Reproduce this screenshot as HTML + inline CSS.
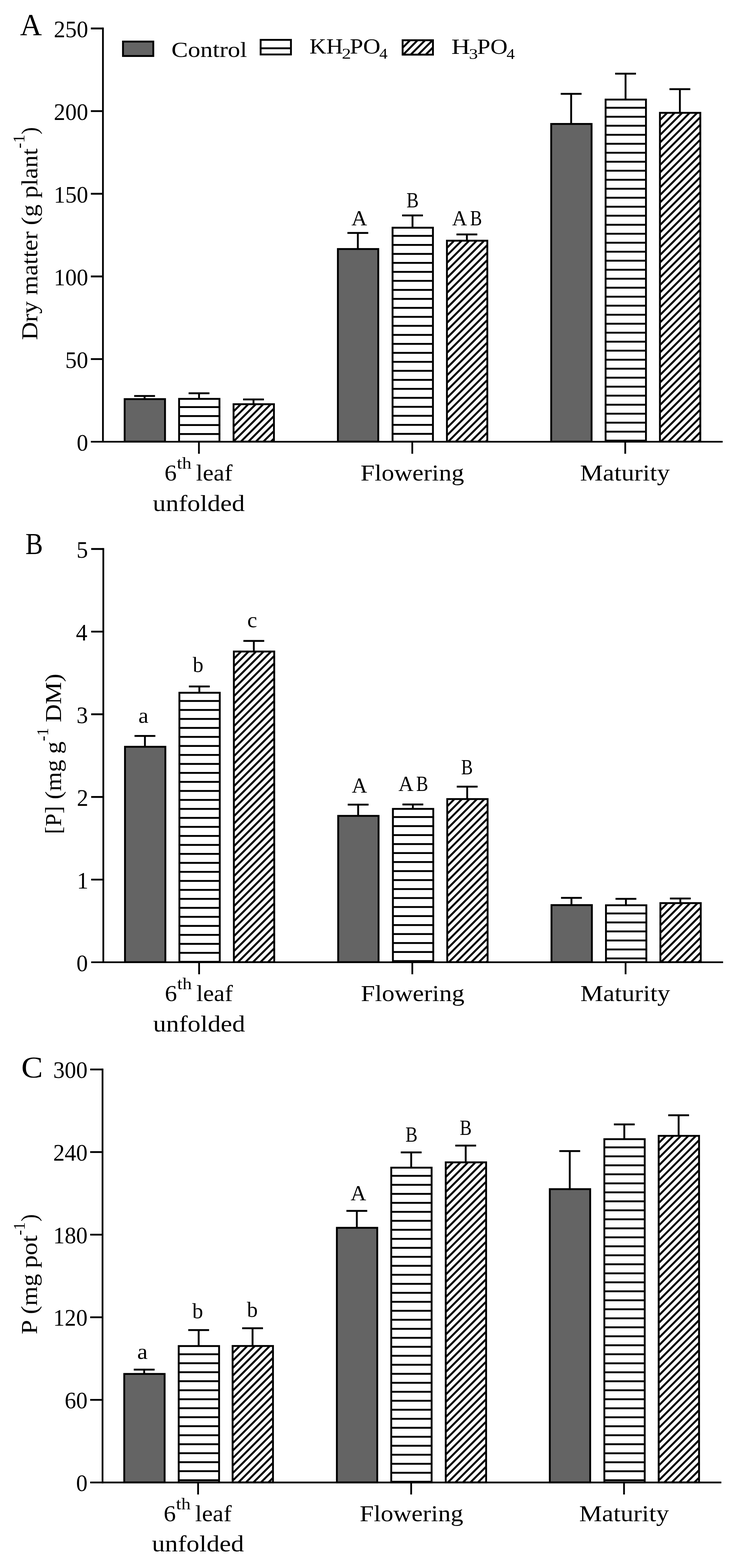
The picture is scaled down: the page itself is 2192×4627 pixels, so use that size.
<!DOCTYPE html>
<html lang="en"><head><meta charset="utf-8"><title>Dry matter and phosphorus by growth stage</title>
<style>
html,body{margin:0;padding:0;background:#fff}
body{width:2192px;height:4627px;overflow:hidden}
svg{display:block}
svg text{font-family:"Liberation Serif",serif;fill:#000;white-space:pre}
</style></head><body>
<svg width="2192" height="4627" viewBox="0 0 2192 4627" stroke="#000">
<defs><clipPath id="c1"><rect x="527.6" y="1176.3" width="120.6" height="127.7"/></clipPath><clipPath id="c2"><rect x="688.3" y="1192" width="120.6" height="112"/></clipPath><clipPath id="c3"><rect x="1157.4" y="671.2" width="120.6" height="632.8"/></clipPath><clipPath id="c4"><rect x="1317.8" y="709.5" width="120.6" height="594.5"/></clipPath><clipPath id="c5"><rect x="1785.9" y="293.1" width="120.6" height="1010.9"/></clipPath><clipPath id="c6"><rect x="1946.2" y="332.2" width="120.6" height="971.8"/></clipPath><clipPath id="c7"><rect x="528.5" y="2043.5" width="120.6" height="796.5"/></clipPath><clipPath id="c8"><rect x="689.2" y="1921.8" width="120.6" height="918.2"/></clipPath><clipPath id="c9"><rect x="1158.4" y="2386.2" width="120.6" height="453.8"/></clipPath><clipPath id="c10"><rect x="1318.7" y="2357.2" width="120.6" height="482.8"/></clipPath><clipPath id="c11"><rect x="1787" y="2670.6" width="120.6" height="169.4"/></clipPath><clipPath id="c12"><rect x="1947.5" y="2664.2" width="120.6" height="175.8"/></clipPath><clipPath id="c13"><rect x="526.5" y="3971.3" width="120.6" height="403.8"/></clipPath><clipPath id="c14"><rect x="685.5" y="3971.1" width="120.6" height="404"/></clipPath><clipPath id="c15"><rect x="1153.5" y="3444.9" width="120.6" height="930.2"/></clipPath><clipPath id="c16"><rect x="1314.3" y="3429.2" width="120.6" height="945.9"/></clipPath><clipPath id="c17"><rect x="1782.2" y="3360.8" width="120.6" height="1014.3"/></clipPath><clipPath id="c18"><rect x="1942.5" y="3351" width="120.6" height="1024.1"/></clipPath><clipPath id="c19"><rect x="768.2" y="116.9" width="90.9" height="44.6"/></clipPath><clipPath id="c20"><rect x="1187.1" y="118" width="90.9" height="44"/></clipPath></defs>
<rect x="0" y="0" width="2192" height="4627" fill="#fff" stroke="none"/>
<g stroke="#000">
<rect x="395.85" y="1165.75" width="61.5" height="5.5" fill="#000" stroke="none"/>
<rect x="423.85" y="1168.5" width="5.5" height="8.5" fill="#000" stroke="none"/>
<rect x="367.75" y="1177.75" width="119.1" height="125.5" fill="#646464" stroke-width="5.5"/>
<rect x="556.45" y="1157.75" width="61.5" height="5.5" fill="#000" stroke="none"/>
<rect x="584.45" y="1160.5" width="5.5" height="15.8" fill="#000" stroke="none"/>
<g clip-path="url(#c1)"><line x1="525.6" y1="1201.2" x2="650.2" y2="1201.2" stroke-width="5.5"/><line x1="525.6" y1="1227.75" x2="650.2" y2="1227.75" stroke-width="5.5"/><line x1="525.6" y1="1254.3" x2="650.2" y2="1254.3" stroke-width="5.5"/><line x1="525.6" y1="1280.85" x2="650.2" y2="1280.85" stroke-width="5.5"/></g>
<rect x="528.35" y="1177.05" width="119.1" height="126.2" fill="none" stroke-width="5.5"/>
<rect x="717.15" y="1175.95" width="61.5" height="5.5" fill="#000" stroke="none"/>
<rect x="745.15" y="1178.7" width="5.5" height="13.3" fill="#000" stroke="none"/>
<g clip-path="url(#c2)"><path d="M681.3 1199.7L815.9 1065.1M681.3 1221.83L815.9 1087.23M681.3 1243.96L815.9 1109.36M681.3 1266.09L815.9 1131.49M681.3 1288.22L815.9 1153.62M681.3 1310.35L815.9 1175.75M681.3 1332.48L815.9 1197.88M681.3 1354.61L815.9 1220.01M681.3 1376.74L815.9 1242.14M681.3 1398.87L815.9 1264.27M681.3 1421L815.9 1286.4M681.3 1443.13L815.9 1308.53" stroke-width="5.8" fill="none"/></g>
<rect x="689.05" y="1192.75" width="119.1" height="110.5" fill="none" stroke-width="5.5"/>
<rect x="1024.95" y="684.65" width="61.5" height="5.5" fill="#000" stroke="none"/>
<rect x="1052.95" y="687.4" width="5.5" height="46.7" fill="#000" stroke="none"/>
<rect x="996.85" y="734.85" width="119.1" height="568.4" fill="#646464" stroke-width="5.5"/>
<rect x="1186.25" y="632.95" width="61.5" height="5.5" fill="#000" stroke="none"/>
<rect x="1214.25" y="635.7" width="5.5" height="35.5" fill="#000" stroke="none"/>
<g clip-path="url(#c3)"><line x1="1155.4" y1="696.1" x2="1280" y2="696.1" stroke-width="5.5"/><line x1="1155.4" y1="722.65" x2="1280" y2="722.65" stroke-width="5.5"/><line x1="1155.4" y1="749.2" x2="1280" y2="749.2" stroke-width="5.5"/><line x1="1155.4" y1="775.75" x2="1280" y2="775.75" stroke-width="5.5"/><line x1="1155.4" y1="802.3" x2="1280" y2="802.3" stroke-width="5.5"/><line x1="1155.4" y1="828.85" x2="1280" y2="828.85" stroke-width="5.5"/><line x1="1155.4" y1="855.4" x2="1280" y2="855.4" stroke-width="5.5"/><line x1="1155.4" y1="881.95" x2="1280" y2="881.95" stroke-width="5.5"/><line x1="1155.4" y1="908.5" x2="1280" y2="908.5" stroke-width="5.5"/><line x1="1155.4" y1="935.05" x2="1280" y2="935.05" stroke-width="5.5"/><line x1="1155.4" y1="961.6" x2="1280" y2="961.6" stroke-width="5.5"/><line x1="1155.4" y1="988.15" x2="1280" y2="988.15" stroke-width="5.5"/><line x1="1155.4" y1="1014.7" x2="1280" y2="1014.7" stroke-width="5.5"/><line x1="1155.4" y1="1041.25" x2="1280" y2="1041.25" stroke-width="5.5"/><line x1="1155.4" y1="1067.8" x2="1280" y2="1067.8" stroke-width="5.5"/><line x1="1155.4" y1="1094.35" x2="1280" y2="1094.35" stroke-width="5.5"/><line x1="1155.4" y1="1120.9" x2="1280" y2="1120.9" stroke-width="5.5"/><line x1="1155.4" y1="1147.45" x2="1280" y2="1147.45" stroke-width="5.5"/><line x1="1155.4" y1="1174" x2="1280" y2="1174" stroke-width="5.5"/><line x1="1155.4" y1="1200.55" x2="1280" y2="1200.55" stroke-width="5.5"/><line x1="1155.4" y1="1227.1" x2="1280" y2="1227.1" stroke-width="5.5"/><line x1="1155.4" y1="1253.65" x2="1280" y2="1253.65" stroke-width="5.5"/><line x1="1155.4" y1="1280.2" x2="1280" y2="1280.2" stroke-width="5.5"/></g>
<rect x="1158.15" y="671.95" width="119.1" height="631.3" fill="none" stroke-width="5.5"/>
<rect x="1346.65" y="689.05" width="61.5" height="5.5" fill="#000" stroke="none"/>
<rect x="1374.65" y="691.8" width="5.5" height="17.7" fill="#000" stroke="none"/>
<g clip-path="url(#c4)"><path d="M1310.8 717.2L1445.4 582.6M1310.8 739.33L1445.4 604.73M1310.8 761.46L1445.4 626.86M1310.8 783.59L1445.4 648.99M1310.8 805.72L1445.4 671.12M1310.8 827.85L1445.4 693.25M1310.8 849.98L1445.4 715.38M1310.8 872.11L1445.4 737.51M1310.8 894.24L1445.4 759.64M1310.8 916.37L1445.4 781.77M1310.8 938.5L1445.4 803.9M1310.8 960.63L1445.4 826.03M1310.8 982.76L1445.4 848.16M1310.8 1004.89L1445.4 870.29M1310.8 1027.02L1445.4 892.42M1310.8 1049.15L1445.4 914.55M1310.8 1071.28L1445.4 936.68M1310.8 1093.41L1445.4 958.81M1310.8 1115.54L1445.4 980.94M1310.8 1137.67L1445.4 1003.07M1310.8 1159.8L1445.4 1025.2M1310.8 1181.93L1445.4 1047.33M1310.8 1204.06L1445.4 1069.46M1310.8 1226.19L1445.4 1091.59M1310.8 1248.32L1445.4 1113.72M1310.8 1270.45L1445.4 1135.85M1310.8 1292.58L1445.4 1157.98M1310.8 1314.71L1445.4 1180.11M1310.8 1336.84L1445.4 1202.24M1310.8 1358.97L1445.4 1224.37M1310.8 1381.1L1445.4 1246.5M1310.8 1403.23L1445.4 1268.63M1310.8 1425.36L1445.4 1290.76" stroke-width="5.8" fill="none"/></g>
<rect x="1318.55" y="710.25" width="119.1" height="593" fill="none" stroke-width="5.5"/>
<rect x="1654.25" y="274.15" width="61.5" height="5.5" fill="#000" stroke="none"/>
<rect x="1682.25" y="276.9" width="5.5" height="88.1" fill="#000" stroke="none"/>
<rect x="1626.15" y="365.75" width="119.1" height="937.5" fill="#646464" stroke-width="5.5"/>
<rect x="1814.75" y="214.65" width="61.5" height="5.5" fill="#000" stroke="none"/>
<rect x="1842.75" y="217.4" width="5.5" height="75.7" fill="#000" stroke="none"/>
<g clip-path="url(#c5)"><line x1="1783.9" y1="318" x2="1908.5" y2="318" stroke-width="5.5"/><line x1="1783.9" y1="344.55" x2="1908.5" y2="344.55" stroke-width="5.5"/><line x1="1783.9" y1="371.1" x2="1908.5" y2="371.1" stroke-width="5.5"/><line x1="1783.9" y1="397.65" x2="1908.5" y2="397.65" stroke-width="5.5"/><line x1="1783.9" y1="424.2" x2="1908.5" y2="424.2" stroke-width="5.5"/><line x1="1783.9" y1="450.75" x2="1908.5" y2="450.75" stroke-width="5.5"/><line x1="1783.9" y1="477.3" x2="1908.5" y2="477.3" stroke-width="5.5"/><line x1="1783.9" y1="503.85" x2="1908.5" y2="503.85" stroke-width="5.5"/><line x1="1783.9" y1="530.4" x2="1908.5" y2="530.4" stroke-width="5.5"/><line x1="1783.9" y1="556.95" x2="1908.5" y2="556.95" stroke-width="5.5"/><line x1="1783.9" y1="583.5" x2="1908.5" y2="583.5" stroke-width="5.5"/><line x1="1783.9" y1="610.05" x2="1908.5" y2="610.05" stroke-width="5.5"/><line x1="1783.9" y1="636.6" x2="1908.5" y2="636.6" stroke-width="5.5"/><line x1="1783.9" y1="663.15" x2="1908.5" y2="663.15" stroke-width="5.5"/><line x1="1783.9" y1="689.7" x2="1908.5" y2="689.7" stroke-width="5.5"/><line x1="1783.9" y1="716.25" x2="1908.5" y2="716.25" stroke-width="5.5"/><line x1="1783.9" y1="742.8" x2="1908.5" y2="742.8" stroke-width="5.5"/><line x1="1783.9" y1="769.35" x2="1908.5" y2="769.35" stroke-width="5.5"/><line x1="1783.9" y1="795.9" x2="1908.5" y2="795.9" stroke-width="5.5"/><line x1="1783.9" y1="822.45" x2="1908.5" y2="822.45" stroke-width="5.5"/><line x1="1783.9" y1="849" x2="1908.5" y2="849" stroke-width="5.5"/><line x1="1783.9" y1="875.55" x2="1908.5" y2="875.55" stroke-width="5.5"/><line x1="1783.9" y1="902.1" x2="1908.5" y2="902.1" stroke-width="5.5"/><line x1="1783.9" y1="928.65" x2="1908.5" y2="928.65" stroke-width="5.5"/><line x1="1783.9" y1="955.2" x2="1908.5" y2="955.2" stroke-width="5.5"/><line x1="1783.9" y1="981.75" x2="1908.5" y2="981.75" stroke-width="5.5"/><line x1="1783.9" y1="1008.3" x2="1908.5" y2="1008.3" stroke-width="5.5"/><line x1="1783.9" y1="1034.85" x2="1908.5" y2="1034.85" stroke-width="5.5"/><line x1="1783.9" y1="1061.4" x2="1908.5" y2="1061.4" stroke-width="5.5"/><line x1="1783.9" y1="1087.95" x2="1908.5" y2="1087.95" stroke-width="5.5"/><line x1="1783.9" y1="1114.5" x2="1908.5" y2="1114.5" stroke-width="5.5"/><line x1="1783.9" y1="1141.05" x2="1908.5" y2="1141.05" stroke-width="5.5"/><line x1="1783.9" y1="1167.6" x2="1908.5" y2="1167.6" stroke-width="5.5"/><line x1="1783.9" y1="1194.15" x2="1908.5" y2="1194.15" stroke-width="5.5"/><line x1="1783.9" y1="1220.7" x2="1908.5" y2="1220.7" stroke-width="5.5"/><line x1="1783.9" y1="1247.25" x2="1908.5" y2="1247.25" stroke-width="5.5"/><line x1="1783.9" y1="1273.8" x2="1908.5" y2="1273.8" stroke-width="5.5"/><line x1="1783.9" y1="1300.35" x2="1908.5" y2="1300.35" stroke-width="5.5"/></g>
<rect x="1786.65" y="293.85" width="119.1" height="1009.4" fill="none" stroke-width="5.5"/>
<rect x="1975.05" y="260.35" width="61.5" height="5.5" fill="#000" stroke="none"/>
<rect x="2003.05" y="263.1" width="5.5" height="69.1" fill="#000" stroke="none"/>
<g clip-path="url(#c6)"><path d="M1939.2 339.9L2073.8 205.3M1939.2 362.03L2073.8 227.43M1939.2 384.16L2073.8 249.56M1939.2 406.29L2073.8 271.69M1939.2 428.42L2073.8 293.82M1939.2 450.55L2073.8 315.95M1939.2 472.68L2073.8 338.08M1939.2 494.81L2073.8 360.21M1939.2 516.94L2073.8 382.34M1939.2 539.07L2073.8 404.47M1939.2 561.2L2073.8 426.6M1939.2 583.33L2073.8 448.73M1939.2 605.46L2073.8 470.86M1939.2 627.59L2073.8 492.99M1939.2 649.72L2073.8 515.12M1939.2 671.85L2073.8 537.25M1939.2 693.98L2073.8 559.38M1939.2 716.11L2073.8 581.51M1939.2 738.24L2073.8 603.64M1939.2 760.37L2073.8 625.77M1939.2 782.5L2073.8 647.9M1939.2 804.63L2073.8 670.03M1939.2 826.76L2073.8 692.16M1939.2 848.89L2073.8 714.29M1939.2 871.02L2073.8 736.42M1939.2 893.15L2073.8 758.55M1939.2 915.28L2073.8 780.68M1939.2 937.41L2073.8 802.81M1939.2 959.54L2073.8 824.94M1939.2 981.67L2073.8 847.07M1939.2 1003.8L2073.8 869.2M1939.2 1025.93L2073.8 891.33M1939.2 1048.06L2073.8 913.46M1939.2 1070.19L2073.8 935.59M1939.2 1092.32L2073.8 957.72M1939.2 1114.45L2073.8 979.85M1939.2 1136.58L2073.8 1001.98M1939.2 1158.71L2073.8 1024.11M1939.2 1180.84L2073.8 1046.24M1939.2 1202.97L2073.8 1068.37M1939.2 1225.1L2073.8 1090.5M1939.2 1247.23L2073.8 1112.63M1939.2 1269.36L2073.8 1134.76M1939.2 1291.49L2073.8 1156.89M1939.2 1313.62L2073.8 1179.02M1939.2 1335.75L2073.8 1201.15M1939.2 1357.88L2073.8 1223.28M1939.2 1380.01L2073.8 1245.41M1939.2 1402.14L2073.8 1267.54M1939.2 1424.27L2073.8 1289.67" stroke-width="5.8" fill="none"/></g>
<rect x="1946.95" y="332.95" width="119.1" height="970.3" fill="none" stroke-width="5.5"/>
<line x1="303.7" y1="81.3" x2="303.7" y2="1306.1" stroke-width="5.2"/>
<line x1="268" y1="1303.5" x2="2132" y2="1303.5" stroke-width="5.2"/>
<line x1="268" y1="1059.6" x2="303.7" y2="1059.6" stroke-width="5.4"/>
<line x1="268" y1="815.7" x2="303.7" y2="815.7" stroke-width="5.4"/>
<line x1="268" y1="571.8" x2="303.7" y2="571.8" stroke-width="5.4"/>
<line x1="268" y1="327.9" x2="303.7" y2="327.9" stroke-width="5.4"/>
<line x1="268" y1="84" x2="303.7" y2="84" stroke-width="5.4"/>
<line x1="586.9" y1="1303.5" x2="586.9" y2="1339" stroke-width="5.2"/>
<line x1="1216.3" y1="1303.5" x2="1216.3" y2="1339" stroke-width="5.2"/>
<line x1="1844.6" y1="1303.5" x2="1844.6" y2="1339" stroke-width="5.2"/>
<rect x="396.85" y="2168.95" width="61.5" height="5.5" fill="#000" stroke="none"/>
<rect x="424.85" y="2171.7" width="5.5" height="31.2" fill="#000" stroke="none"/>
<rect x="368.75" y="2203.65" width="119.1" height="635.6" fill="#646464" stroke-width="5.5"/>
<rect x="557.35" y="2022.95" width="61.5" height="5.5" fill="#000" stroke="none"/>
<rect x="585.35" y="2025.7" width="5.5" height="17.8" fill="#000" stroke="none"/>
<g clip-path="url(#c7)"><line x1="526.5" y1="2068.4" x2="651.1" y2="2068.4" stroke-width="5.5"/><line x1="526.5" y1="2094.95" x2="651.1" y2="2094.95" stroke-width="5.5"/><line x1="526.5" y1="2121.5" x2="651.1" y2="2121.5" stroke-width="5.5"/><line x1="526.5" y1="2148.05" x2="651.1" y2="2148.05" stroke-width="5.5"/><line x1="526.5" y1="2174.6" x2="651.1" y2="2174.6" stroke-width="5.5"/><line x1="526.5" y1="2201.15" x2="651.1" y2="2201.15" stroke-width="5.5"/><line x1="526.5" y1="2227.7" x2="651.1" y2="2227.7" stroke-width="5.5"/><line x1="526.5" y1="2254.25" x2="651.1" y2="2254.25" stroke-width="5.5"/><line x1="526.5" y1="2280.8" x2="651.1" y2="2280.8" stroke-width="5.5"/><line x1="526.5" y1="2307.35" x2="651.1" y2="2307.35" stroke-width="5.5"/><line x1="526.5" y1="2333.9" x2="651.1" y2="2333.9" stroke-width="5.5"/><line x1="526.5" y1="2360.45" x2="651.1" y2="2360.45" stroke-width="5.5"/><line x1="526.5" y1="2387" x2="651.1" y2="2387" stroke-width="5.5"/><line x1="526.5" y1="2413.55" x2="651.1" y2="2413.55" stroke-width="5.5"/><line x1="526.5" y1="2440.1" x2="651.1" y2="2440.1" stroke-width="5.5"/><line x1="526.5" y1="2466.65" x2="651.1" y2="2466.65" stroke-width="5.5"/><line x1="526.5" y1="2493.2" x2="651.1" y2="2493.2" stroke-width="5.5"/><line x1="526.5" y1="2519.75" x2="651.1" y2="2519.75" stroke-width="5.5"/><line x1="526.5" y1="2546.3" x2="651.1" y2="2546.3" stroke-width="5.5"/><line x1="526.5" y1="2572.85" x2="651.1" y2="2572.85" stroke-width="5.5"/><line x1="526.5" y1="2599.4" x2="651.1" y2="2599.4" stroke-width="5.5"/><line x1="526.5" y1="2625.95" x2="651.1" y2="2625.95" stroke-width="5.5"/><line x1="526.5" y1="2652.5" x2="651.1" y2="2652.5" stroke-width="5.5"/><line x1="526.5" y1="2679.05" x2="651.1" y2="2679.05" stroke-width="5.5"/><line x1="526.5" y1="2705.6" x2="651.1" y2="2705.6" stroke-width="5.5"/><line x1="526.5" y1="2732.15" x2="651.1" y2="2732.15" stroke-width="5.5"/><line x1="526.5" y1="2758.7" x2="651.1" y2="2758.7" stroke-width="5.5"/><line x1="526.5" y1="2785.25" x2="651.1" y2="2785.25" stroke-width="5.5"/><line x1="526.5" y1="2811.8" x2="651.1" y2="2811.8" stroke-width="5.5"/><line x1="526.5" y1="2838.35" x2="651.1" y2="2838.35" stroke-width="5.5"/></g>
<rect x="529.25" y="2044.25" width="119.1" height="795" fill="none" stroke-width="5.5"/>
<rect x="718.05" y="1888.55" width="61.5" height="5.5" fill="#000" stroke="none"/>
<rect x="746.05" y="1891.3" width="5.5" height="30.5" fill="#000" stroke="none"/>
<g clip-path="url(#c8)"><path d="M682.2 1929.5L816.8 1794.9M682.2 1951.63L816.8 1817.03M682.2 1973.76L816.8 1839.16M682.2 1995.89L816.8 1861.29M682.2 2018.02L816.8 1883.42M682.2 2040.15L816.8 1905.55M682.2 2062.28L816.8 1927.68M682.2 2084.41L816.8 1949.81M682.2 2106.54L816.8 1971.94M682.2 2128.67L816.8 1994.07M682.2 2150.8L816.8 2016.2M682.2 2172.93L816.8 2038.33M682.2 2195.06L816.8 2060.46M682.2 2217.19L816.8 2082.59M682.2 2239.32L816.8 2104.72M682.2 2261.45L816.8 2126.85M682.2 2283.58L816.8 2148.98M682.2 2305.71L816.8 2171.11M682.2 2327.84L816.8 2193.24M682.2 2349.97L816.8 2215.37M682.2 2372.1L816.8 2237.5M682.2 2394.23L816.8 2259.63M682.2 2416.36L816.8 2281.76M682.2 2438.49L816.8 2303.89M682.2 2460.62L816.8 2326.02M682.2 2482.75L816.8 2348.15M682.2 2504.88L816.8 2370.28M682.2 2527.01L816.8 2392.41M682.2 2549.14L816.8 2414.54M682.2 2571.27L816.8 2436.67M682.2 2593.4L816.8 2458.8M682.2 2615.53L816.8 2480.93M682.2 2637.66L816.8 2503.06M682.2 2659.79L816.8 2525.19M682.2 2681.92L816.8 2547.32M682.2 2704.05L816.8 2569.45M682.2 2726.18L816.8 2591.58M682.2 2748.31L816.8 2613.71M682.2 2770.44L816.8 2635.84M682.2 2792.57L816.8 2657.97M682.2 2814.7L816.8 2680.1M682.2 2836.83L816.8 2702.23M682.2 2858.96L816.8 2724.36M682.2 2881.09L816.8 2746.49M682.2 2903.22L816.8 2768.62M682.2 2925.35L816.8 2790.75M682.2 2947.48L816.8 2812.88M682.2 2969.61L816.8 2835.01" stroke-width="5.8" fill="none"/></g>
<rect x="689.95" y="1922.55" width="119.1" height="916.7" fill="none" stroke-width="5.5"/>
<rect x="1025.85" y="2371.65" width="61.5" height="5.5" fill="#000" stroke="none"/>
<rect x="1053.85" y="2374.4" width="5.5" height="32.4" fill="#000" stroke="none"/>
<rect x="997.75" y="2407.55" width="119.1" height="431.7" fill="#646464" stroke-width="5.5"/>
<rect x="1187.25" y="2371.15" width="61.5" height="5.5" fill="#000" stroke="none"/>
<rect x="1215.25" y="2373.9" width="5.5" height="12.3" fill="#000" stroke="none"/>
<g clip-path="url(#c9)"><line x1="1156.4" y1="2411.1" x2="1281" y2="2411.1" stroke-width="5.5"/><line x1="1156.4" y1="2437.65" x2="1281" y2="2437.65" stroke-width="5.5"/><line x1="1156.4" y1="2464.2" x2="1281" y2="2464.2" stroke-width="5.5"/><line x1="1156.4" y1="2490.75" x2="1281" y2="2490.75" stroke-width="5.5"/><line x1="1156.4" y1="2517.3" x2="1281" y2="2517.3" stroke-width="5.5"/><line x1="1156.4" y1="2543.85" x2="1281" y2="2543.85" stroke-width="5.5"/><line x1="1156.4" y1="2570.4" x2="1281" y2="2570.4" stroke-width="5.5"/><line x1="1156.4" y1="2596.95" x2="1281" y2="2596.95" stroke-width="5.5"/><line x1="1156.4" y1="2623.5" x2="1281" y2="2623.5" stroke-width="5.5"/><line x1="1156.4" y1="2650.05" x2="1281" y2="2650.05" stroke-width="5.5"/><line x1="1156.4" y1="2676.6" x2="1281" y2="2676.6" stroke-width="5.5"/><line x1="1156.4" y1="2703.15" x2="1281" y2="2703.15" stroke-width="5.5"/><line x1="1156.4" y1="2729.7" x2="1281" y2="2729.7" stroke-width="5.5"/><line x1="1156.4" y1="2756.25" x2="1281" y2="2756.25" stroke-width="5.5"/><line x1="1156.4" y1="2782.8" x2="1281" y2="2782.8" stroke-width="5.5"/><line x1="1156.4" y1="2809.35" x2="1281" y2="2809.35" stroke-width="5.5"/><line x1="1156.4" y1="2835.9" x2="1281" y2="2835.9" stroke-width="5.5"/></g>
<rect x="1159.15" y="2386.95" width="119.1" height="452.3" fill="none" stroke-width="5.5"/>
<rect x="1347.55" y="2318.55" width="61.5" height="5.5" fill="#000" stroke="none"/>
<rect x="1375.55" y="2321.3" width="5.5" height="35.9" fill="#000" stroke="none"/>
<g clip-path="url(#c10)"><path d="M1311.7 2364.9L1446.3 2230.3M1311.7 2387.03L1446.3 2252.43M1311.7 2409.16L1446.3 2274.56M1311.7 2431.29L1446.3 2296.69M1311.7 2453.42L1446.3 2318.82M1311.7 2475.55L1446.3 2340.95M1311.7 2497.68L1446.3 2363.08M1311.7 2519.81L1446.3 2385.21M1311.7 2541.94L1446.3 2407.34M1311.7 2564.07L1446.3 2429.47M1311.7 2586.2L1446.3 2451.6M1311.7 2608.33L1446.3 2473.73M1311.7 2630.46L1446.3 2495.86M1311.7 2652.59L1446.3 2517.99M1311.7 2674.72L1446.3 2540.12M1311.7 2696.85L1446.3 2562.25M1311.7 2718.98L1446.3 2584.38M1311.7 2741.11L1446.3 2606.51M1311.7 2763.24L1446.3 2628.64M1311.7 2785.37L1446.3 2650.77M1311.7 2807.5L1446.3 2672.9M1311.7 2829.63L1446.3 2695.03M1311.7 2851.76L1446.3 2717.16M1311.7 2873.89L1446.3 2739.29M1311.7 2896.02L1446.3 2761.42M1311.7 2918.15L1446.3 2783.55M1311.7 2940.28L1446.3 2805.68M1311.7 2962.41L1446.3 2827.81" stroke-width="5.8" fill="none"/></g>
<rect x="1319.45" y="2357.95" width="119.1" height="481.3" fill="none" stroke-width="5.5"/>
<rect x="1655.15" y="2646.75" width="61.5" height="5.5" fill="#000" stroke="none"/>
<rect x="1683.15" y="2649.5" width="5.5" height="20.6" fill="#000" stroke="none"/>
<rect x="1627.05" y="2670.85" width="119.1" height="168.4" fill="#646464" stroke-width="5.5"/>
<rect x="1815.85" y="2649.65" width="61.5" height="5.5" fill="#000" stroke="none"/>
<rect x="1843.85" y="2652.4" width="5.5" height="18.2" fill="#000" stroke="none"/>
<g clip-path="url(#c11)"><line x1="1785" y1="2695.5" x2="1909.6" y2="2695.5" stroke-width="5.5"/><line x1="1785" y1="2722.05" x2="1909.6" y2="2722.05" stroke-width="5.5"/><line x1="1785" y1="2748.6" x2="1909.6" y2="2748.6" stroke-width="5.5"/><line x1="1785" y1="2775.15" x2="1909.6" y2="2775.15" stroke-width="5.5"/><line x1="1785" y1="2801.7" x2="1909.6" y2="2801.7" stroke-width="5.5"/><line x1="1785" y1="2828.25" x2="1909.6" y2="2828.25" stroke-width="5.5"/></g>
<rect x="1787.75" y="2671.35" width="119.1" height="167.9" fill="none" stroke-width="5.5"/>
<rect x="1976.35" y="2648.65" width="61.5" height="5.5" fill="#000" stroke="none"/>
<rect x="2004.35" y="2651.4" width="5.5" height="12.8" fill="#000" stroke="none"/>
<g clip-path="url(#c12)"><path d="M1940.5 2671.9L2075.1 2537.3M1940.5 2694.03L2075.1 2559.43M1940.5 2716.16L2075.1 2581.56M1940.5 2738.29L2075.1 2603.69M1940.5 2760.42L2075.1 2625.82M1940.5 2782.55L2075.1 2647.95M1940.5 2804.68L2075.1 2670.08M1940.5 2826.81L2075.1 2692.21M1940.5 2848.94L2075.1 2714.34M1940.5 2871.07L2075.1 2736.47M1940.5 2893.2L2075.1 2758.6M1940.5 2915.33L2075.1 2780.73M1940.5 2937.46L2075.1 2802.86M1940.5 2959.59L2075.1 2824.99" stroke-width="5.8" fill="none"/></g>
<rect x="1948.25" y="2664.95" width="119.1" height="174.3" fill="none" stroke-width="5.5"/>
<line x1="304.8" y1="1617.3" x2="304.8" y2="2842.1" stroke-width="5.2"/>
<line x1="269" y1="2839.5" x2="2133.3" y2="2839.5" stroke-width="5.2"/>
<line x1="269" y1="2595.6" x2="304.8" y2="2595.6" stroke-width="5.4"/>
<line x1="269" y1="2351.7" x2="304.8" y2="2351.7" stroke-width="5.4"/>
<line x1="269" y1="2107.8" x2="304.8" y2="2107.8" stroke-width="5.4"/>
<line x1="269" y1="1863.9" x2="304.8" y2="1863.9" stroke-width="5.4"/>
<line x1="269" y1="1620" x2="304.8" y2="1620" stroke-width="5.4"/>
<line x1="587.4" y1="2839.5" x2="587.4" y2="2875" stroke-width="5.2"/>
<line x1="1216.4" y1="2839.5" x2="1216.4" y2="2875" stroke-width="5.2"/>
<line x1="1845.6" y1="2839.5" x2="1845.6" y2="2875" stroke-width="5.2"/>
<rect x="394.65" y="4038.85" width="61.5" height="5.5" fill="#000" stroke="none"/>
<rect x="422.65" y="4041.6" width="5.5" height="12" fill="#000" stroke="none"/>
<rect x="366.55" y="4054.35" width="119.1" height="320" fill="#646464" stroke-width="5.5"/>
<rect x="555.35" y="3922.15" width="61.5" height="5.5" fill="#000" stroke="none"/>
<rect x="583.35" y="3924.9" width="5.5" height="46.4" fill="#000" stroke="none"/>
<g clip-path="url(#c13)"><line x1="524.5" y1="3996.2" x2="649.1" y2="3996.2" stroke-width="5.5"/><line x1="524.5" y1="4022.75" x2="649.1" y2="4022.75" stroke-width="5.5"/><line x1="524.5" y1="4049.3" x2="649.1" y2="4049.3" stroke-width="5.5"/><line x1="524.5" y1="4075.85" x2="649.1" y2="4075.85" stroke-width="5.5"/><line x1="524.5" y1="4102.4" x2="649.1" y2="4102.4" stroke-width="5.5"/><line x1="524.5" y1="4128.95" x2="649.1" y2="4128.95" stroke-width="5.5"/><line x1="524.5" y1="4155.5" x2="649.1" y2="4155.5" stroke-width="5.5"/><line x1="524.5" y1="4182.05" x2="649.1" y2="4182.05" stroke-width="5.5"/><line x1="524.5" y1="4208.6" x2="649.1" y2="4208.6" stroke-width="5.5"/><line x1="524.5" y1="4235.15" x2="649.1" y2="4235.15" stroke-width="5.5"/><line x1="524.5" y1="4261.7" x2="649.1" y2="4261.7" stroke-width="5.5"/><line x1="524.5" y1="4288.25" x2="649.1" y2="4288.25" stroke-width="5.5"/><line x1="524.5" y1="4314.8" x2="649.1" y2="4314.8" stroke-width="5.5"/><line x1="524.5" y1="4341.35" x2="649.1" y2="4341.35" stroke-width="5.5"/><line x1="524.5" y1="4367.9" x2="649.1" y2="4367.9" stroke-width="5.5"/></g>
<rect x="527.25" y="3972.05" width="119.1" height="402.3" fill="none" stroke-width="5.5"/>
<rect x="714.35" y="3916.75" width="61.5" height="5.5" fill="#000" stroke="none"/>
<rect x="742.35" y="3919.5" width="5.5" height="51.6" fill="#000" stroke="none"/>
<g clip-path="url(#c14)"><path d="M678.5 3978.8L813.1 3844.2M678.5 4000.93L813.1 3866.33M678.5 4023.06L813.1 3888.46M678.5 4045.19L813.1 3910.59M678.5 4067.32L813.1 3932.72M678.5 4089.45L813.1 3954.85M678.5 4111.58L813.1 3976.98M678.5 4133.71L813.1 3999.11M678.5 4155.84L813.1 4021.24M678.5 4177.97L813.1 4043.37M678.5 4200.1L813.1 4065.5M678.5 4222.23L813.1 4087.63M678.5 4244.36L813.1 4109.76M678.5 4266.49L813.1 4131.89M678.5 4288.62L813.1 4154.02M678.5 4310.75L813.1 4176.15M678.5 4332.88L813.1 4198.28M678.5 4355.01L813.1 4220.41M678.5 4377.14L813.1 4242.54M678.5 4399.27L813.1 4264.67M678.5 4421.4L813.1 4286.8M678.5 4443.53L813.1 4308.93M678.5 4465.66L813.1 4331.06M678.5 4487.79L813.1 4353.19M678.5 4509.92L813.1 4375.32" stroke-width="5.8" fill="none"/></g>
<rect x="686.25" y="3971.85" width="119.1" height="402.5" fill="none" stroke-width="5.5"/>
<rect x="1021.95" y="3570.45" width="61.5" height="5.5" fill="#000" stroke="none"/>
<rect x="1049.95" y="3573.2" width="5.5" height="49.2" fill="#000" stroke="none"/>
<rect x="993.85" y="3623.15" width="119.1" height="751.2" fill="#646464" stroke-width="5.5"/>
<rect x="1182.35" y="3397.85" width="61.5" height="5.5" fill="#000" stroke="none"/>
<rect x="1210.35" y="3400.6" width="5.5" height="44.3" fill="#000" stroke="none"/>
<g clip-path="url(#c15)"><line x1="1151.5" y1="3469.8" x2="1276.1" y2="3469.8" stroke-width="5.5"/><line x1="1151.5" y1="3496.35" x2="1276.1" y2="3496.35" stroke-width="5.5"/><line x1="1151.5" y1="3522.9" x2="1276.1" y2="3522.9" stroke-width="5.5"/><line x1="1151.5" y1="3549.45" x2="1276.1" y2="3549.45" stroke-width="5.5"/><line x1="1151.5" y1="3576" x2="1276.1" y2="3576" stroke-width="5.5"/><line x1="1151.5" y1="3602.55" x2="1276.1" y2="3602.55" stroke-width="5.5"/><line x1="1151.5" y1="3629.1" x2="1276.1" y2="3629.1" stroke-width="5.5"/><line x1="1151.5" y1="3655.65" x2="1276.1" y2="3655.65" stroke-width="5.5"/><line x1="1151.5" y1="3682.2" x2="1276.1" y2="3682.2" stroke-width="5.5"/><line x1="1151.5" y1="3708.75" x2="1276.1" y2="3708.75" stroke-width="5.5"/><line x1="1151.5" y1="3735.3" x2="1276.1" y2="3735.3" stroke-width="5.5"/><line x1="1151.5" y1="3761.85" x2="1276.1" y2="3761.85" stroke-width="5.5"/><line x1="1151.5" y1="3788.4" x2="1276.1" y2="3788.4" stroke-width="5.5"/><line x1="1151.5" y1="3814.95" x2="1276.1" y2="3814.95" stroke-width="5.5"/><line x1="1151.5" y1="3841.5" x2="1276.1" y2="3841.5" stroke-width="5.5"/><line x1="1151.5" y1="3868.05" x2="1276.1" y2="3868.05" stroke-width="5.5"/><line x1="1151.5" y1="3894.6" x2="1276.1" y2="3894.6" stroke-width="5.5"/><line x1="1151.5" y1="3921.15" x2="1276.1" y2="3921.15" stroke-width="5.5"/><line x1="1151.5" y1="3947.7" x2="1276.1" y2="3947.7" stroke-width="5.5"/><line x1="1151.5" y1="3974.25" x2="1276.1" y2="3974.25" stroke-width="5.5"/><line x1="1151.5" y1="4000.8" x2="1276.1" y2="4000.8" stroke-width="5.5"/><line x1="1151.5" y1="4027.35" x2="1276.1" y2="4027.35" stroke-width="5.5"/><line x1="1151.5" y1="4053.9" x2="1276.1" y2="4053.9" stroke-width="5.5"/><line x1="1151.5" y1="4080.45" x2="1276.1" y2="4080.45" stroke-width="5.5"/><line x1="1151.5" y1="4107" x2="1276.1" y2="4107" stroke-width="5.5"/><line x1="1151.5" y1="4133.55" x2="1276.1" y2="4133.55" stroke-width="5.5"/><line x1="1151.5" y1="4160.1" x2="1276.1" y2="4160.1" stroke-width="5.5"/><line x1="1151.5" y1="4186.65" x2="1276.1" y2="4186.65" stroke-width="5.5"/><line x1="1151.5" y1="4213.2" x2="1276.1" y2="4213.2" stroke-width="5.5"/><line x1="1151.5" y1="4239.75" x2="1276.1" y2="4239.75" stroke-width="5.5"/><line x1="1151.5" y1="4266.3" x2="1276.1" y2="4266.3" stroke-width="5.5"/><line x1="1151.5" y1="4292.85" x2="1276.1" y2="4292.85" stroke-width="5.5"/><line x1="1151.5" y1="4319.4" x2="1276.1" y2="4319.4" stroke-width="5.5"/><line x1="1151.5" y1="4345.95" x2="1276.1" y2="4345.95" stroke-width="5.5"/><line x1="1151.5" y1="4372.5" x2="1276.1" y2="4372.5" stroke-width="5.5"/></g>
<rect x="1154.25" y="3445.65" width="119.1" height="928.7" fill="none" stroke-width="5.5"/>
<rect x="1343.15" y="3377.75" width="61.5" height="5.5" fill="#000" stroke="none"/>
<rect x="1371.15" y="3380.5" width="5.5" height="48.7" fill="#000" stroke="none"/>
<g clip-path="url(#c16)"><path d="M1307.3 3436.9L1441.9 3302.3M1307.3 3459.03L1441.9 3324.43M1307.3 3481.16L1441.9 3346.56M1307.3 3503.29L1441.9 3368.69M1307.3 3525.42L1441.9 3390.82M1307.3 3547.55L1441.9 3412.95M1307.3 3569.68L1441.9 3435.08M1307.3 3591.81L1441.9 3457.21M1307.3 3613.94L1441.9 3479.34M1307.3 3636.07L1441.9 3501.47M1307.3 3658.2L1441.9 3523.6M1307.3 3680.33L1441.9 3545.73M1307.3 3702.46L1441.9 3567.86M1307.3 3724.59L1441.9 3589.99M1307.3 3746.72L1441.9 3612.12M1307.3 3768.85L1441.9 3634.25M1307.3 3790.98L1441.9 3656.38M1307.3 3813.11L1441.9 3678.51M1307.3 3835.24L1441.9 3700.64M1307.3 3857.37L1441.9 3722.77M1307.3 3879.5L1441.9 3744.9M1307.3 3901.63L1441.9 3767.03M1307.3 3923.76L1441.9 3789.16M1307.3 3945.89L1441.9 3811.29M1307.3 3968.02L1441.9 3833.42M1307.3 3990.15L1441.9 3855.55M1307.3 4012.28L1441.9 3877.68M1307.3 4034.41L1441.9 3899.81M1307.3 4056.54L1441.9 3921.94M1307.3 4078.67L1441.9 3944.07M1307.3 4100.8L1441.9 3966.2M1307.3 4122.93L1441.9 3988.33M1307.3 4145.06L1441.9 4010.46M1307.3 4167.19L1441.9 4032.59M1307.3 4189.32L1441.9 4054.72M1307.3 4211.45L1441.9 4076.85M1307.3 4233.58L1441.9 4098.98M1307.3 4255.71L1441.9 4121.11M1307.3 4277.84L1441.9 4143.24M1307.3 4299.97L1441.9 4165.37M1307.3 4322.1L1441.9 4187.5M1307.3 4344.23L1441.9 4209.63M1307.3 4366.36L1441.9 4231.76M1307.3 4388.49L1441.9 4253.89M1307.3 4410.62L1441.9 4276.02M1307.3 4432.75L1441.9 4298.15M1307.3 4454.88L1441.9 4320.28M1307.3 4477.01L1441.9 4342.41M1307.3 4499.14L1441.9 4364.54" stroke-width="5.8" fill="none"/></g>
<rect x="1315.05" y="3429.95" width="119.1" height="944.4" fill="none" stroke-width="5.5"/>
<rect x="1650.15" y="3393.95" width="61.5" height="5.5" fill="#000" stroke="none"/>
<rect x="1678.15" y="3396.7" width="5.5" height="111.6" fill="#000" stroke="none"/>
<rect x="1622.05" y="3509.05" width="119.1" height="865.3" fill="#646464" stroke-width="5.5"/>
<rect x="1811.05" y="3315.25" width="61.5" height="5.5" fill="#000" stroke="none"/>
<rect x="1839.05" y="3318" width="5.5" height="42.8" fill="#000" stroke="none"/>
<g clip-path="url(#c17)"><line x1="1780.2" y1="3385.7" x2="1904.8" y2="3385.7" stroke-width="5.5"/><line x1="1780.2" y1="3412.25" x2="1904.8" y2="3412.25" stroke-width="5.5"/><line x1="1780.2" y1="3438.8" x2="1904.8" y2="3438.8" stroke-width="5.5"/><line x1="1780.2" y1="3465.35" x2="1904.8" y2="3465.35" stroke-width="5.5"/><line x1="1780.2" y1="3491.9" x2="1904.8" y2="3491.9" stroke-width="5.5"/><line x1="1780.2" y1="3518.45" x2="1904.8" y2="3518.45" stroke-width="5.5"/><line x1="1780.2" y1="3545" x2="1904.8" y2="3545" stroke-width="5.5"/><line x1="1780.2" y1="3571.55" x2="1904.8" y2="3571.55" stroke-width="5.5"/><line x1="1780.2" y1="3598.1" x2="1904.8" y2="3598.1" stroke-width="5.5"/><line x1="1780.2" y1="3624.65" x2="1904.8" y2="3624.65" stroke-width="5.5"/><line x1="1780.2" y1="3651.2" x2="1904.8" y2="3651.2" stroke-width="5.5"/><line x1="1780.2" y1="3677.75" x2="1904.8" y2="3677.75" stroke-width="5.5"/><line x1="1780.2" y1="3704.3" x2="1904.8" y2="3704.3" stroke-width="5.5"/><line x1="1780.2" y1="3730.85" x2="1904.8" y2="3730.85" stroke-width="5.5"/><line x1="1780.2" y1="3757.4" x2="1904.8" y2="3757.4" stroke-width="5.5"/><line x1="1780.2" y1="3783.95" x2="1904.8" y2="3783.95" stroke-width="5.5"/><line x1="1780.2" y1="3810.5" x2="1904.8" y2="3810.5" stroke-width="5.5"/><line x1="1780.2" y1="3837.05" x2="1904.8" y2="3837.05" stroke-width="5.5"/><line x1="1780.2" y1="3863.6" x2="1904.8" y2="3863.6" stroke-width="5.5"/><line x1="1780.2" y1="3890.15" x2="1904.8" y2="3890.15" stroke-width="5.5"/><line x1="1780.2" y1="3916.7" x2="1904.8" y2="3916.7" stroke-width="5.5"/><line x1="1780.2" y1="3943.25" x2="1904.8" y2="3943.25" stroke-width="5.5"/><line x1="1780.2" y1="3969.8" x2="1904.8" y2="3969.8" stroke-width="5.5"/><line x1="1780.2" y1="3996.35" x2="1904.8" y2="3996.35" stroke-width="5.5"/><line x1="1780.2" y1="4022.9" x2="1904.8" y2="4022.9" stroke-width="5.5"/><line x1="1780.2" y1="4049.45" x2="1904.8" y2="4049.45" stroke-width="5.5"/><line x1="1780.2" y1="4076" x2="1904.8" y2="4076" stroke-width="5.5"/><line x1="1780.2" y1="4102.55" x2="1904.8" y2="4102.55" stroke-width="5.5"/><line x1="1780.2" y1="4129.1" x2="1904.8" y2="4129.1" stroke-width="5.5"/><line x1="1780.2" y1="4155.65" x2="1904.8" y2="4155.65" stroke-width="5.5"/><line x1="1780.2" y1="4182.2" x2="1904.8" y2="4182.2" stroke-width="5.5"/><line x1="1780.2" y1="4208.75" x2="1904.8" y2="4208.75" stroke-width="5.5"/><line x1="1780.2" y1="4235.3" x2="1904.8" y2="4235.3" stroke-width="5.5"/><line x1="1780.2" y1="4261.85" x2="1904.8" y2="4261.85" stroke-width="5.5"/><line x1="1780.2" y1="4288.4" x2="1904.8" y2="4288.4" stroke-width="5.5"/><line x1="1780.2" y1="4314.95" x2="1904.8" y2="4314.95" stroke-width="5.5"/><line x1="1780.2" y1="4341.5" x2="1904.8" y2="4341.5" stroke-width="5.5"/><line x1="1780.2" y1="4368.05" x2="1904.8" y2="4368.05" stroke-width="5.5"/></g>
<rect x="1782.95" y="3361.55" width="119.1" height="1012.8" fill="none" stroke-width="5.5"/>
<rect x="1971.35" y="3288.25" width="61.5" height="5.5" fill="#000" stroke="none"/>
<rect x="1999.35" y="3291" width="5.5" height="60" fill="#000" stroke="none"/>
<g clip-path="url(#c18)"><path d="M1935.5 3358.7L2070.1 3224.1M1935.5 3380.83L2070.1 3246.23M1935.5 3402.96L2070.1 3268.36M1935.5 3425.09L2070.1 3290.49M1935.5 3447.22L2070.1 3312.62M1935.5 3469.35L2070.1 3334.75M1935.5 3491.48L2070.1 3356.88M1935.5 3513.61L2070.1 3379.01M1935.5 3535.74L2070.1 3401.14M1935.5 3557.87L2070.1 3423.27M1935.5 3580L2070.1 3445.4M1935.5 3602.13L2070.1 3467.53M1935.5 3624.26L2070.1 3489.66M1935.5 3646.39L2070.1 3511.79M1935.5 3668.52L2070.1 3533.92M1935.5 3690.65L2070.1 3556.05M1935.5 3712.78L2070.1 3578.18M1935.5 3734.91L2070.1 3600.31M1935.5 3757.04L2070.1 3622.44M1935.5 3779.17L2070.1 3644.57M1935.5 3801.3L2070.1 3666.7M1935.5 3823.43L2070.1 3688.83M1935.5 3845.56L2070.1 3710.96M1935.5 3867.69L2070.1 3733.09M1935.5 3889.82L2070.1 3755.22M1935.5 3911.95L2070.1 3777.35M1935.5 3934.08L2070.1 3799.48M1935.5 3956.21L2070.1 3821.61M1935.5 3978.34L2070.1 3843.74M1935.5 4000.47L2070.1 3865.87M1935.5 4022.6L2070.1 3888M1935.5 4044.73L2070.1 3910.13M1935.5 4066.86L2070.1 3932.26M1935.5 4088.99L2070.1 3954.39M1935.5 4111.12L2070.1 3976.52M1935.5 4133.25L2070.1 3998.65M1935.5 4155.38L2070.1 4020.78M1935.5 4177.51L2070.1 4042.91M1935.5 4199.64L2070.1 4065.04M1935.5 4221.77L2070.1 4087.17M1935.5 4243.9L2070.1 4109.3M1935.5 4266.03L2070.1 4131.43M1935.5 4288.16L2070.1 4153.56M1935.5 4310.29L2070.1 4175.69M1935.5 4332.42L2070.1 4197.82M1935.5 4354.55L2070.1 4219.95M1935.5 4376.68L2070.1 4242.08M1935.5 4398.81L2070.1 4264.21M1935.5 4420.94L2070.1 4286.34M1935.5 4443.07L2070.1 4308.47M1935.5 4465.2L2070.1 4330.6M1935.5 4487.33L2070.1 4352.73M1935.5 4509.46L2070.1 4374.86" stroke-width="5.8" fill="none"/></g>
<rect x="1943.25" y="3351.75" width="119.1" height="1022.6" fill="none" stroke-width="5.5"/>
<line x1="302.5" y1="3153.15" x2="302.5" y2="4377.2" stroke-width="5.2"/>
<line x1="266" y1="4374.6" x2="2128.1" y2="4374.6" stroke-width="5.2"/>
<line x1="266" y1="4130.85" x2="302.5" y2="4130.85" stroke-width="5.4"/>
<line x1="266" y1="3887.1" x2="302.5" y2="3887.1" stroke-width="5.4"/>
<line x1="266" y1="3643.35" x2="302.5" y2="3643.35" stroke-width="5.4"/>
<line x1="266" y1="3399.6" x2="302.5" y2="3399.6" stroke-width="5.4"/>
<line x1="266" y1="3155.85" x2="302.5" y2="3155.85" stroke-width="5.4"/>
<line x1="584.4" y1="4374.6" x2="584.4" y2="4410.1" stroke-width="5.2"/>
<line x1="1213" y1="4374.6" x2="1213" y2="4410.1" stroke-width="5.2"/>
<line x1="1841" y1="4374.6" x2="1841" y2="4410.1" stroke-width="5.2"/>
<rect x="362.85" y="122.65" width="89.4" height="42.6" fill="#646464" stroke-width="5.5"/>
<g clip-path="url(#c19)"><line x1="766.2" y1="142.4" x2="861.1" y2="142.4" stroke-width="5.5"/></g>
<rect x="768.95" y="117.65" width="89.4" height="43.1" fill="none" stroke-width="5.5"/>
<g clip-path="url(#c20)"><path d="M1180.1 126.4L1285 21.5M1180.1 148.53L1285 43.63M1180.1 170.66L1285 65.76M1180.1 192.79L1285 87.89M1180.1 214.92L1285 110.02M1180.1 237.05L1285 132.15M1180.1 259.18L1285 154.28" stroke-width="5.8" fill="none"/></g>
<rect x="1187.85" y="118.75" width="89.4" height="42.5" fill="none" stroke-width="5.5"/>
</g>
<g stroke="none">
<text transform="matrix(0.9800 0 0 1 226.33 1329.5)" font-size="69">0</text>
<text transform="matrix(0.9800 0 0 1 192.52 1085.6)" font-size="69">50</text>
<text transform="matrix(0.9800 0 0 1 158.71 841.7)" font-size="69">100</text>
<text transform="matrix(0.9800 0 0 1 158.71 597.8)" font-size="69">150</text>
<text transform="matrix(0.9800 0 0 1 158.71 353.9)" font-size="69">200</text>
<text transform="matrix(0.9800 0 0 1 158.71 110)" font-size="69">250</text>
<text><tspan x="59.31" y="103.8" font-size="90" textLength="64.23" lengthAdjust="spacingAndGlyphs">A</tspan></text>
<text><tspan x="1036.76" y="664.8" font-size="62.5" textLength="46.3" lengthAdjust="spacingAndGlyphs">A</tspan></text>
<text><tspan x="1199.21" y="611.6" font-size="62.5" textLength="36.06" lengthAdjust="spacingAndGlyphs">B</tspan></text>
<text><tspan x="1333.79" y="664.8" font-size="62.5" textLength="44.15" lengthAdjust="spacingAndGlyphs">A</tspan><tspan x="1387.06" y="664.8" font-size="62.5" textLength="35.05" lengthAdjust="spacingAndGlyphs">B</tspan></text>
<text><tspan x="505.78" y="167.6" font-size="64" textLength="223.03" lengthAdjust="spacingAndGlyphs">Control</tspan></text>
<text><tspan x="913.02" y="157.8" font-size="64" textLength="99" lengthAdjust="spacingAndGlyphs">KH</tspan><tspan x="1008.5" y="172.9" font-size="44" textLength="27.08" lengthAdjust="spacingAndGlyphs">2</tspan><tspan x="1032.06" y="157.8" font-size="64" textLength="90.33" lengthAdjust="spacingAndGlyphs">PO</tspan><tspan x="1119.02" y="172.9" font-size="44" textLength="24.41" lengthAdjust="spacingAndGlyphs">4</tspan></text>
<text><tspan x="1331.7" y="158.5" font-size="64" textLength="55.06" lengthAdjust="spacingAndGlyphs">H</tspan><tspan x="1383.49" y="173.6" font-size="44" textLength="26.42" lengthAdjust="spacingAndGlyphs">3</tspan><tspan x="1407.57" y="158.5" font-size="64" textLength="89.8" lengthAdjust="spacingAndGlyphs">PO</tspan><tspan x="1494.53" y="173.6" font-size="44" textLength="24.19" lengthAdjust="spacingAndGlyphs">4</tspan></text>
<text><tspan x="485.34" y="1418" font-size="67" textLength="36.02" lengthAdjust="spacingAndGlyphs">6</tspan><tspan x="521.85" y="1383" font-size="49" textLength="56.91" lengthAdjust="spacingAndGlyphs">th </tspan><tspan x="578.26" y="1418" font-size="68.5" textLength="107.72" lengthAdjust="spacingAndGlyphs">leaf</tspan></text>
<text><tspan x="450.85" y="1507.5" font-size="68.5" textLength="271.19" lengthAdjust="spacingAndGlyphs">unfolded</tspan></text>
<text><tspan x="1063.86" y="1418" font-size="68.5" textLength="305.4" lengthAdjust="spacingAndGlyphs">Flowering</tspan></text>
<text><tspan x="1711.32" y="1418" font-size="68.5" textLength="264.84" lengthAdjust="spacingAndGlyphs">Maturity</tspan></text>
<text transform="rotate(-90)"><tspan x="-1003.22" y="110.1" font-size="68.5" textLength="565.36" lengthAdjust="spacingAndGlyphs">Dry matter (g plant</tspan><tspan x="-438.05" y="72" font-size="49" textLength="41.03" lengthAdjust="spacingAndGlyphs">-1</tspan><tspan x="-396.47" y="110.1" font-size="68.5" textLength="21.21" lengthAdjust="spacingAndGlyphs">)</tspan></text>
<text transform="matrix(0.9800 0 0 1 225.53 2865.5)" font-size="69">0</text>
<text transform="matrix(0.9800 0 0 1 227.05 2621.6)" font-size="69">1</text>
<text transform="matrix(0.9800 0 0 1 226.71 2377.7)" font-size="69">2</text>
<text transform="matrix(0.9800 0 0 1 225.69 2133.8)" font-size="69">3</text>
<text transform="matrix(0.9800 0 0 1 224 1889.9)" font-size="69">4</text>
<text transform="matrix(0.9800 0 0 1 225.69 1646)" font-size="69">5</text>
<text><tspan x="75.07" y="1634" font-size="88.5" textLength="51.66" lengthAdjust="spacingAndGlyphs">B</tspan></text>
<text><tspan x="408.15" y="2133.4" font-size="62.5" textLength="29.78" lengthAdjust="spacingAndGlyphs">a</tspan></text>
<text><tspan x="568.7" y="1982.7" font-size="62.5" textLength="31.35" lengthAdjust="spacingAndGlyphs">b</tspan></text>
<text><tspan x="729.54" y="1851" font-size="62.5" textLength="29.12" lengthAdjust="spacingAndGlyphs">c</tspan></text>
<text><tspan x="1037.77" y="2338.5" font-size="62.5" textLength="45.28" lengthAdjust="spacingAndGlyphs">A</tspan></text>
<text><tspan x="1175.39" y="2334" font-size="62.5" textLength="44.36" lengthAdjust="spacingAndGlyphs">A</tspan><tspan x="1228.05" y="2334" font-size="62.5" textLength="35.27" lengthAdjust="spacingAndGlyphs">B</tspan></text>
<text><tspan x="1360.58" y="2285.4" font-size="62.5" textLength="34.48" lengthAdjust="spacingAndGlyphs">B</tspan></text>
<text><tspan x="486.34" y="2954" font-size="67" textLength="36.02" lengthAdjust="spacingAndGlyphs">6</tspan><tspan x="522.85" y="2919" font-size="49" textLength="56.91" lengthAdjust="spacingAndGlyphs">th </tspan><tspan x="579.26" y="2954" font-size="68.5" textLength="107.72" lengthAdjust="spacingAndGlyphs">leaf</tspan></text>
<text><tspan x="451.85" y="3043.5" font-size="68.5" textLength="271.19" lengthAdjust="spacingAndGlyphs">unfolded</tspan></text>
<text><tspan x="1064.86" y="2954" font-size="68.5" textLength="305.4" lengthAdjust="spacingAndGlyphs">Flowering</tspan></text>
<text><tspan x="1712.32" y="2954" font-size="68.5" textLength="264.84" lengthAdjust="spacingAndGlyphs">Maturity</tspan></text>
<text transform="rotate(-90)"><tspan x="-2461.18" y="180.3" font-size="68.5" textLength="99.7" lengthAdjust="spacingAndGlyphs">[P] </tspan><tspan x="-2358.78" y="180.3" font-size="68.5" textLength="134.92" lengthAdjust="spacingAndGlyphs">(mg </tspan><tspan x="-2224.75" y="180.3" font-size="68.5" textLength="37.03" lengthAdjust="spacingAndGlyphs">g</tspan><tspan x="-2186.96" y="141.9" font-size="49" textLength="50.69" lengthAdjust="spacingAndGlyphs">-1 </tspan><tspan x="-2131.23" y="180.3" font-size="68.5" textLength="143.21" lengthAdjust="spacingAndGlyphs">DM)</tspan></text>
<text transform="matrix(0.9800 0 0 1 224.53 4399.9)" font-size="69">0</text>
<text transform="matrix(0.9800 0 0 1 190.72 4156.15)" font-size="69">60</text>
<text transform="matrix(0.9800 0 0 1 156.91 3912.4)" font-size="69">120</text>
<text transform="matrix(0.9800 0 0 1 156.91 3668.65)" font-size="69">180</text>
<text transform="matrix(0.9800 0 0 1 156.91 3424.9)" font-size="69">240</text>
<text transform="matrix(0.9800 0 0 1 156.91 3181.15)" font-size="69">300</text>
<text><tspan x="62.78" y="3178.8" font-size="88.5" textLength="63.73" lengthAdjust="spacingAndGlyphs">C</tspan></text>
<text><tspan x="404.76" y="4009.6" font-size="62.5" textLength="30.9" lengthAdjust="spacingAndGlyphs">a</tspan></text>
<text><tspan x="567.2" y="3890" font-size="62.5" textLength="31.89" lengthAdjust="spacingAndGlyphs">b</tspan></text>
<text><tspan x="728.5" y="3886" font-size="62.5" textLength="31.89" lengthAdjust="spacingAndGlyphs">b</tspan></text>
<text><tspan x="1034.36" y="3542.2" font-size="62.5" textLength="46.1" lengthAdjust="spacingAndGlyphs">A</tspan></text>
<text><tspan x="1196.23" y="3369.1" font-size="62.5" textLength="35.61" lengthAdjust="spacingAndGlyphs">B</tspan></text>
<text><tspan x="1356.56" y="3348.5" font-size="62.5" textLength="35.05" lengthAdjust="spacingAndGlyphs">B</tspan></text>
<text><tspan x="482.84" y="4488.8" font-size="67" textLength="36.02" lengthAdjust="spacingAndGlyphs">6</tspan><tspan x="519.35" y="4453.8" font-size="49" textLength="56.91" lengthAdjust="spacingAndGlyphs">th </tspan><tspan x="575.76" y="4488.8" font-size="68.5" textLength="107.72" lengthAdjust="spacingAndGlyphs">leaf</tspan></text>
<text><tspan x="448.35" y="4578.3" font-size="68.5" textLength="271.19" lengthAdjust="spacingAndGlyphs">unfolded</tspan></text>
<text><tspan x="1061.36" y="4488.8" font-size="68.5" textLength="305.4" lengthAdjust="spacingAndGlyphs">Flowering</tspan></text>
<text><tspan x="1708.82" y="4488.8" font-size="68.5" textLength="264.84" lengthAdjust="spacingAndGlyphs">Maturity</tspan></text>
<text transform="rotate(-90)"><tspan x="-3937.5" y="108.9" font-size="68.5" textLength="58.7" lengthAdjust="spacingAndGlyphs">P </tspan><tspan x="-3877.93" y="108.9" font-size="68.5" textLength="137.2" lengthAdjust="spacingAndGlyphs">(mg </tspan><tspan x="-3742.14" y="108.9" font-size="68.5" textLength="96.94" lengthAdjust="spacingAndGlyphs">pot</tspan><tspan x="-3645.36" y="72.5" font-size="49" textLength="38.99" lengthAdjust="spacingAndGlyphs">-1</tspan><tspan x="-3604.41" y="108.9" font-size="68.5" textLength="21.6" lengthAdjust="spacingAndGlyphs">)</tspan></text>
</g>
</svg>
</body></html>
